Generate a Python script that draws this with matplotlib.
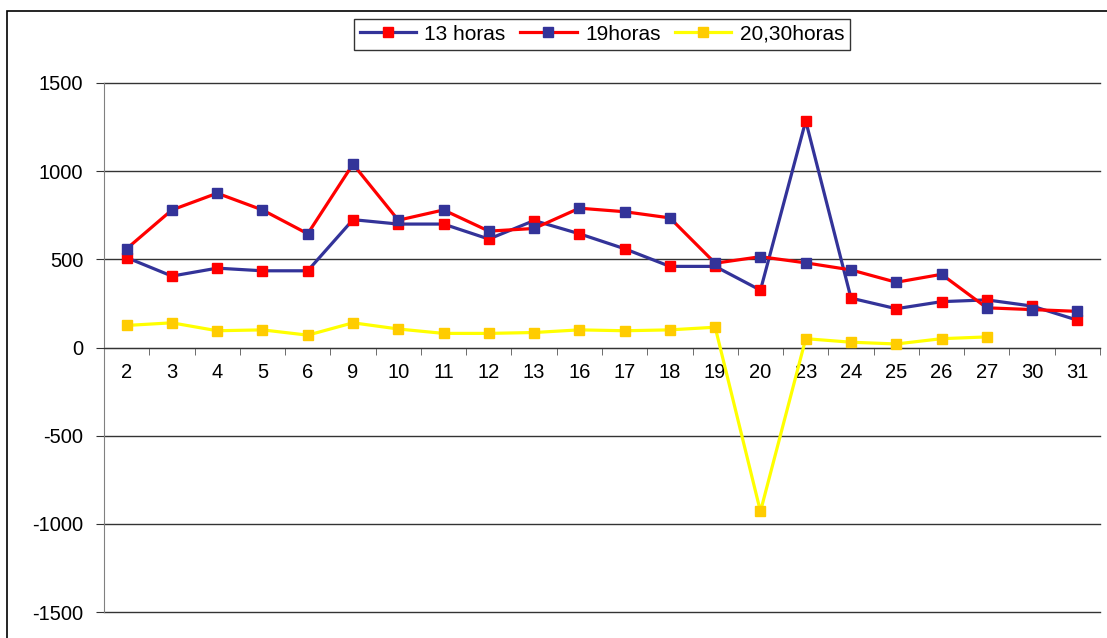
import matplotlib.pyplot as plt
from matplotlib.patches import Rectangle
import numpy as np

plt.rcParams['font.family'] = ['Liberation Sans', 'DejaVu Sans']

# Data
dias = ['2', '3', '4', '5', '6', '9', '10', '11', '12', '13', '16',
        '17', '18', '19', '20', '23', '24', '25', '26', '27', '30', '31']
h13 = [510, 405, 450, 435, 435, 725, 700, 700, 615, 720, 645,
       560, 460, 460, 325, 1285, 280, 220, 260, 270, 235, 155]
h19 = [560, 780, 875, 780, 645, 1040, 722, 780, 660, 675, 790,
       770, 735, 478, 515, 480, 440, 370, 415, 225, 215, 205]
h2030 = [125, 140, 95, 100, 70, 140, 105, 80, 80, 85, 100,
         95, 100, 115, -930, 50, 30, 20, 50, 60, np.nan, np.nan]
yticks = [-1500, -1000, -500, 0, 500, 1000, 1500]

navy = '#333399'
red = '#FF0000'

fig = plt.figure(figsize=(11.07, 6.38), dpi=100)
ax = fig.add_axes([104/1107, 1 - 612/638, (1100 - 104)/1107, (612 - 83)/638])

x = np.arange(len(dias))

# Series
ax.plot(x, h13, color=navy, lw=2.3, marker='s', ms=7,
        mfc=red, mec=red, label='13 horas', zorder=3)
ax.plot(x, h19, color=red, lw=2.3, marker='s', ms=7,
        mfc=navy, mec=navy, label='19horas', zorder=4)
ax.plot(x, h2030, color='#FFFF00', lw=2.3, marker='s', ms=7,
        mfc='#FFCC00', mec='#FFCC00', label='20,30horas', zorder=3)

# Axes
ax.set_xlim(-0.5, len(dias) - 0.5)
ax.set_ylim(-1500, 1500)
ax.set_yticks(yticks)
ax.set_yticklabels([str(v) for v in yticks], fontsize=14.5)
for v in yticks:
    ax.axhline(v, color='#333333', lw=1, zorder=1, clip_on=False)

ax.spines['top'].set_visible(False)
ax.spines['right'].set_visible(False)
ax.spines['left'].set_color('#808080')
ax.spines['bottom'].set_position(('data', 0))
ax.spines['bottom'].set_color('#333333')

ax.set_xticks(x)
ax.set_xticklabels(dias, fontsize=14.5)
ax.set_xticks(np.arange(-0.5, len(dias)), minor=True)
ax.tick_params(axis='x', which='major', length=0, pad=11)
ax.tick_params(axis='x', which='minor', length=5, color='#555555', direction='out')
ax.tick_params(axis='y', length=6, color='#333333', pad=9)

# Legend
leg = ax.legend(loc='lower center', bbox_to_anchor=(0.5, 1.0 + (83 - 50)/529),
                ncol=3, fontsize=15, frameon=True, fancybox=False,
                edgecolor='black', handlelength=2.7, columnspacing=0.7,
                handletextpad=0.4, borderpad=0.3, borderaxespad=0)
leg.get_frame().set_linewidth(1)

# Outer chart border
fig.patches.append(Rectangle((7/1107, -0.1), 1.2, 1 - 11/638 + 0.1,
                             transform=fig.transFigure, fill=False,
                             edgecolor='black', lw=1.2))

fig.savefig('out.png', dpi=100)
